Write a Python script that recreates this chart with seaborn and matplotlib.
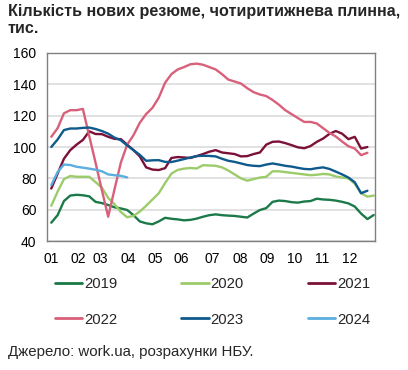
import numpy as np
import pandas as pd
import matplotlib
matplotlib.use('Agg')
import matplotlib.pyplot as plt
import seaborn as sns

# weekly values, thousand CVs (4-week moving sum)
years = ['2019', '2020', '2021', '2022', '2023', '2024']

v2019 = [51.7, 56.5, 65.5, 69, 69.5, 69.2, 68.5, 65, 64.2, 63, 61.5, 60.8, 59.8,
         56.5, 52.5, 51.3, 50.7, 52.5, 54.8, 54.2, 53.8, 53.2, 53.5, 54.3, 55.5,
         56.5, 57, 56.5, 56.2, 56, 55.5, 55, 57.5, 59.8, 61, 65, 65.8, 65.5, 64.8,
         64.5, 65.2, 65.5, 67, 66.5, 66.3, 65.8, 65, 64, 62, 57.5, 54, 56.6]
v2020 = [62.5, 71.5, 79.5, 81.5, 81, 81, 81, 77.6, 74, 67.5, 63.5, 58.5, 55.2,
         56, 58.8, 62.5, 66.5, 70.5, 77, 83, 85.4, 86.2, 86.6, 86.3, 88.4, 88.2,
         88, 87, 85, 82.5, 80, 78.5, 79.5, 80.5, 81, 84.5, 84.5, 84, 83.5, 83,
         82.5, 82, 82.3, 82.8, 82.5, 81.2, 80.5, 80, 76.5, 70.5, 68.3, 69]
v2021 = [73.5, 83, 92.5, 98, 101.5, 104.5, 110, 108.3, 108.2, 106.5, 105.2, 105,
         101.5, 98, 94, 87, 85.6, 85.3, 86.5, 93, 93.6, 93.3, 93, 94.2, 95.5, 97,
         98, 96.5, 96, 95.5, 94, 94.2, 95.5, 96.5, 101.5, 103.3, 103.5, 102.5,
         101.2, 99.8, 99.2, 100.6, 103.3, 105.4, 108.4, 110.2, 108.5, 105, 106.5,
         99, 100]
v2022 = [106.5, 112, 121.5, 123.5, 123.5, 124.3, 107, 90, 72.5, 55.5, 73, 90,
         101.5, 107.5, 115.5, 121, 125, 131.5, 141, 146.5, 149.5, 151, 152.8, 153.2,
         152.5, 151, 149.5, 146.5, 143, 141.8, 140.5, 137.5, 135, 133.5, 132.5, 130,
         127, 123.5, 121, 118.5, 116, 116, 115, 112, 109, 106.7, 103.5, 100.5, 99,
         94.8, 96.3]
v2023 = [100, 104.8, 110.8, 111.8, 111.8, 112.2, 112.4, 111.5, 110.2, 108.5, 106,
         104.3, 101, 98, 95, 91.2, 91.5, 91.6, 90.5, 90.4, 91.3, 92.3, 93.3, 94.2,
         94.4, 94.3, 94, 92.5, 91.2, 90.5, 89.5, 88.5, 88, 87.8, 88.8, 89.5, 88.8,
         88, 87.5, 86.7, 86, 85.8, 86.5, 87, 86, 84.3, 82.5, 80.5, 77.5, 70.5, 72.1]
v2024 = [75.7, 84, 88.8, 88.5, 87.4, 86.8, 86.2, 85.5, 84.5, 82.5, 82, 81.6, 80.6]

series = [v2019, v2020, v2021, v2022, v2023, v2024]

colors = {'2019': '#1b7a48', '2020': '#9ccc6a', '2021': '#7b1038',
          '2022': '#d9607a', '2023': '#0f5a8c', '2024': '#5aaee0'}

month_labels = ['01', '02', '03', '04', '05', '06', '07', '08', '09', '10', '11', '12']
month_pos = [0, 4.3, 7.7, 12.2, 16.4, 20.6, 25.4, 29.9, 34.1, 38.5, 42.8, 47.2]

frames = []
for year, vals in zip(years, series):
    frames.append(pd.DataFrame({'week': np.arange(len(vals)), 'value': vals, 'year': year}))
df = pd.concat(frames, ignore_index=True)

sns.set_style('white')
plt.rcParams['font.family'] = ['Liberation Sans', 'DejaVu Sans']

fig = plt.figure(figsize=(4.08, 3.7), dpi=100)
ax = fig.add_axes([0.1164, 0.3486, 0.8027, 0.5082])

sns.lineplot(data=df, x='week', y='value', hue='year', palette=colors,
             linewidth=1.7, ax=ax)

ax.set_xlim(-0.6, 51.2)
ax.set_ylim(40, 160)
ax.set_yticks(range(40, 161, 20))
ax.set_xticks(month_pos)
ax.set_xticklabels(month_labels)
ax.set_xlabel('')
ax.set_ylabel('')
ax.tick_params(length=0, labelsize=10, pad=8, colors='black')
ax.yaxis.grid(True, color='#d9d9d9', linewidth=1.1)
ax.set_axisbelow(True)
for s in ax.spines.values():
    s.set_visible(True)
    s.set_color('#808080')
    s.set_linewidth(1)

# legend is filled column by column, so reorder to get rows 2019-2021 / 2022-2024
handles, labels = ax.get_legend_handles_labels()
ax.get_legend().remove()
order = [0, 3, 1, 4, 2, 5]
leg = fig.legend([handles[i] for i in order], [labels[i] for i in order],
                 ncol=3, loc='upper left',
                 bbox_to_anchor=(55 / 408, 1 - 277 / 370), frameon=False,
                 fontsize=10.7, handlelength=1.85, handletextpad=0.12,
                 columnspacing=4.3, labelspacing=1.45, borderpad=0, borderaxespad=0)
for line in leg.get_lines():
    line.set_linewidth(2)

fig.text(8 / 408, 1 - 4 / 370, 'Кількість нових резюме, чотиритижнева плинна,\nтис.',
         fontsize=11.6, fontweight='bold', va='top', ha='left', linespacing=1.2)
fig.text(8 / 408, 1 - 352 / 370, 'Джерело: work.ua, розрахунки НБУ.',
         fontsize=10.8, va='center', ha='left')

fig.savefig('out.png', dpi=100)
